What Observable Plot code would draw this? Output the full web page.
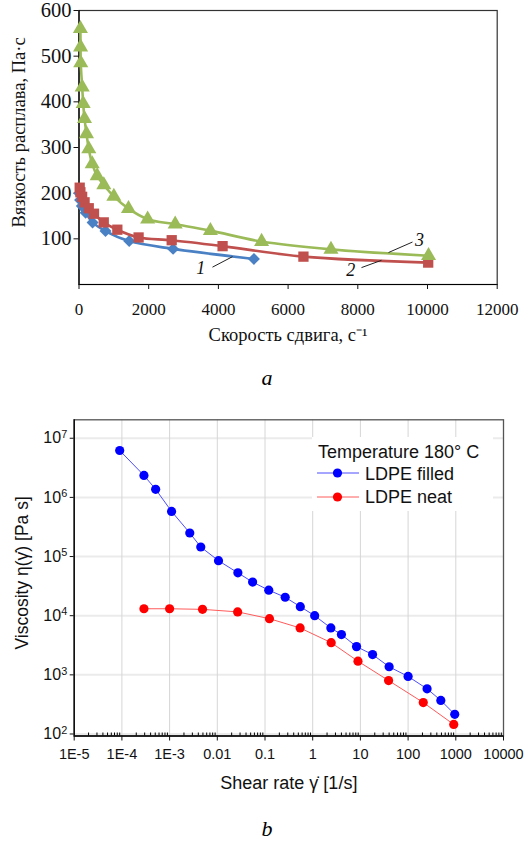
<!DOCTYPE html>
<html><head><meta charset="utf-8">
<script src="https://cdn.jsdelivr.net/npm/d3@7"></script>
<script src="https://cdn.jsdelivr.net/npm/@observablehq/plot@0.6"></script>
<style>
body{margin:0;background:#fff;}
#wrap{position:relative;width:531px;height:841px;overflow:hidden;background:#fff;}
#wrap svg{position:absolute;left:0;}
.cap{position:absolute;font-family:"Liberation Serif",serif;font-style:italic;font-size:22px;line-height:22px;width:100px;text-align:center;}
#legend{position:absolute;left:312px;top:437px;width:181px;height:74px;background:#fff;font-family:"Liberation Sans",Arial,sans-serif;font-size:18px;line-height:18px;color:#111;}
#legend .t{position:absolute;white-space:nowrap;}
#legend svg{position:absolute;}
</style></head><body><div id="wrap"></div>
<script>
// ---------- Chart a: melt viscosity vs shear rate (linear) ----------
const shearA1 = [5, 30, 80, 190, 390, 760, 1440, 2700, 5020];
const viscA1  = [200, 185, 172, 157, 136, 117, 95, 78, 56];
const shearA2 = [20, 40, 90, 160, 280, 430, 710, 1100, 1710, 2660, 4120, 6440, 10020];
const viscA2  = [212, 202, 192, 180, 167, 155, 136, 120, 103, 97, 84, 61, 48];
const shearA3 = [40, 45, 50, 92, 120, 158, 215, 281, 379, 522, 712, 1000, 1420, 1970, 2760, 3770, 5240, 7230, 10030];
const viscA3  = [560, 520, 485, 432, 396, 363, 330, 297, 264, 238, 218, 193, 166, 143, 132, 118, 94, 77, 63];
const xTicksA = [0, 2000, 4000, 6000, 8000, 10000, 12000];
const yTicksA = [100, 200, 300, 400, 500, 600];
const seriesNamesA = ["1", "2", "3"];
const labelPosA = [[3490, 35], [7800, 31], [9770, 96]];
const leaderA = [[3830, 38, 4405, 61], [8106, 37, 8680, 53], [8881, 70, 9570, 93]];
const xLabelA = "Скорость сдвига, с\u207B\u00B9";
const yLabelA = "Вязкость расплава, Па·с";

const seriesA = [
  {name: seriesNamesA[0], xs: shearA1, ys: viscA1, color: "#4a80c4", symbol: "diamond2", r: 5.4},
  {name: seriesNamesA[1], xs: shearA2, ys: viscA2, color: "#c0504d", symbol: "square", r: 5.8},
  {name: seriesNamesA[2], xs: shearA3, ys: viscA3, color: "#9bbb59", symbol: "triangle", r: 5.6}
];

const marksA = [
  Plot.frame({stroke: "#333", strokeWidth: 1.2}),
  Plot.ruleX([0], {stroke: "#000", strokeWidth: 1.2}),
  Plot.ruleY([0], {stroke: "#000", strokeWidth: 1.2}),
  Plot.axisX(xTicksA, {tickSize: 5, tickPadding: 13, fontSize: 17, tickFormat: d => String(d), label: null}),
  Plot.axisY(yTicksA, {tickSize: 5, tickPadding: 2.5, fontSize: 20.5, label: null})
];
for (const s of seriesA) {
  const rows = s.xs.map((x, i) => ({x, y: s.ys[i]}));
  marksA.push(Plot.line(rows, {x: "x", y: "y", stroke: s.color, strokeWidth: 2.6, curve: "catmull-rom"}));
  marksA.push(Plot.dot(rows, {x: "x", y: "y", fill: s.color, symbol: s.symbol, r: s.r}));
}
marksA.push(Plot.link(leaderA, {x1: d => d[0], y1: d => d[1], x2: d => d[2], y2: d => d[3], stroke: "#222", strokeWidth: 1}));
marksA.push(Plot.text(labelPosA, {x: d => d[0], y: d => d[1], text: (d, i) => seriesNamesA[i], fontStyle: "italic", fontSize: 18, fill: "#111"}));
marksA.push(Plot.text([xLabelA], {frameAnchor: "bottom", dy: 56, fontSize: 18.5, fill: "#111", textAnchor: "middle"}));
marksA.push(Plot.text([yLabelA], {frameAnchor: "left", rotate: -90, dx: -60, dy: -15, fontSize: 18.5, fill: "#111", textAnchor: "middle"}));

const plotA = Plot.plot({
  width: 531, height: 360,
  marginLeft: 78.5, marginRight: 34.3, marginTop: 10, marginBottom: 76,
  style: {fontFamily: "'Liberation Serif', 'Times New Roman', serif", fontSize: "17px", color: "#111", background: "transparent", overflow: "visible"},
  x: {domain: [0, 12000], label: null},
  y: {domain: [0, 600], label: null},
  marks: marksA
});
plotA.style.top = "0px";

// ---------- Chart b: viscosity vs shear rate (log-log) ----------
const seriesNamesB = ["LDPE filled", "LDPE neat"];
const shearFilled = [9e-5, 2.9e-4, 5.1e-4, 1.1e-3, 2.65e-3, 4.5e-3, 1.06e-2, 2.7e-2, 5.5e-2, 0.12, 0.265, 0.55, 1.1, 2.4, 4.0, 8.3, 18, 40, 100, 250, 485, 950];
const viscFilled  = [6.2e6, 2.35e6, 1.37e6, 5.8e5, 2.5e5, 1.45e5, 8.5e4, 5.3e4, 3.7e4, 2.7e4, 2.05e4, 1.42e4, 1.0e4, 6.2e3, 4.8e3, 3.0e3, 2.2e3, 1.37e3, 940, 580, 370, 215];
const shearNeat = [2.9e-4, 1.0e-3, 4.9e-3, 2.67e-2, 0.124, 0.545, 2.44, 8.9, 39, 208, 905];
const viscNeat  = [1.31e4, 1.31e4, 1.28e4, 1.16e4, 8.9e3, 6.2e3, 3.5e3, 1.7e3, 800, 340, 145];
const xTicksB = [1e-5, 1e-4, 1e-3, 1e-2, 1e-1, 1, 10, 100, 1000, 10000];
const xTickLabelsB = ["1E-5", "1E-4", "1E-3", "0.01", "0.1", "1", "10", "100", "1000", "10000"];
const yTicksB = [1e2, 1e3, 1e4, 1e5, 1e6, 1e7];
const xDomainB = [1e-5, 1e4];
const yDomainB = [92.5, 2.05e7];
const xMinorB = xTicksB.slice(0, -1).flatMap(d => [2, 3, 4, 5, 6, 7, 8, 9].map(k => k * d));
const xLabelB = "Shear rate \u03B3\u0307 [1/s]";
const yLabelB = "Viscosity \u03B7(\u03B3\u0307) [Pa s]";
const legendTitleB = "Temperature 180\u00B0 C";

const seriesB = [
  {name: seriesNamesB[0], xs: shearFilled, ys: viscFilled, line: "#4d4dff", dot: "#0000ff"},
  {name: seriesNamesB[1], xs: shearNeat, ys: viscNeat, line: "#ff5a5a", dot: "#ff0000"}
];

const labelForB = d => {
  const k = xTicksB.findIndex(t => Math.abs(Math.log10(t) - Math.log10(d)) < 1e-6);
  return k >= 0 ? xTickLabelsB[k] : "";
};

const marksB = [
  Plot.ruleY(yTicksB, {stroke: "#ebebeb", strokeWidth: 2}),
  Plot.ruleX(xTicksB, {stroke: "#d6d6d6", strokeWidth: 1}),
  Plot.frame({stroke: "#555", strokeWidth: 1.3}),
  Plot.ruleX([xDomainB[0]], {stroke: "#000", strokeWidth: 1.3}),
  Plot.ruleY([yDomainB[0]], {stroke: "#000", strokeWidth: 1.5}),
  Plot.ruleX(xMinorB, {y1: yDomainB[0], y2: yDomainB[0], insetTop: -3, stroke: "#000", strokeWidth: 1}),
  Plot.axisX(xTicksB, {tickSize: 5, tickPadding: 7.5, fontSize: 14.5, tickFormat: labelForB, label: null}),
  Plot.axisY(yTicksB, {tickSize: 4, tickPadding: 3, fontSize: 16, tickFormat: d => "10^" + Math.round(Math.log10(d)), label: null})
];
for (const s of seriesB) {
  const rows = s.xs.map((x, i) => ({x, y: s.ys[i]}));
  marksB.push(Plot.line(rows, {x: "x", y: "y", stroke: s.line, strokeWidth: 1}));
  marksB.push(Plot.dot(rows, {x: "x", y: "y", fill: s.dot, r: 4.6}));
}
marksB.push(Plot.text([xLabelB], {frameAnchor: "bottom", dy: 53, fontSize: 18, fill: "#111", textAnchor: "middle"}));
marksB.push(Plot.text([yLabelB], {frameAnchor: "left", rotate: -90, dx: -51.5, dy: -5, fontSize: 17.5, fill: "#111", textAnchor: "middle"}));

const plotB = Plot.plot({
  width: 531, height: 400,
  marginLeft: 73.7, marginRight: 28, marginTop: 19.3, marginBottom: 64.5,
  style: {fontFamily: "'Liberation Sans', Arial, sans-serif", fontSize: "14.5px", color: "#111", background: "transparent", overflow: "visible"},
  x: {type: "log", domain: xDomainB, label: null},
  y: {type: "log", domain: yDomainB, label: null},
  marks: marksB
});
plotB.style.top = "400px";

// superscript exponents on the y tick labels
d3.select(plotB).selectAll('g[aria-label="y-axis tick label"] text').each(function () {
  const t = this.textContent;
  if (t.startsWith("10^")) {
    const e = t.slice(3);
    this.textContent = "10";
    d3.select(this).append("tspan").attr("font-size", "0.68em").attr("dy", "-0.5em").text(e);
  }
});

const wrap = document.getElementById("wrap");
wrap.appendChild(plotA);
wrap.appendChild(plotB);

// captions
const capA = document.createElement("div");
capA.className = "cap"; capA.textContent = "a";
capA.style.left = "217px"; capA.style.top = "367px";
wrap.appendChild(capA);
const capB = document.createElement("div");
capB.className = "cap"; capB.textContent = "b";
capB.style.left = "217px"; capB.style.top = "818px";
wrap.appendChild(capB);

// legend for chart b
const lg = document.createElement("div");
lg.id = "legend";
const title = document.createElement("div");
title.className = "t"; title.textContent = legendTitleB;
title.style.left = "6px"; title.style.top = "6px";
lg.appendChild(title);
seriesB.forEach((s, i) => {
  const cy = 36.3 + i * 23.4;
  const sv = d3.create("svg").attr("width", 46).attr("height", 12)
    .style("left", "4px").style("top", (cy - 6) + "px");
  sv.append("line").attr("x1", 1).attr("x2", 43).attr("y1", 6).attr("y2", 6).attr("stroke", s.line).attr("stroke-width", 1);
  sv.append("circle").attr("cx", 21.5).attr("cy", 6).attr("r", 4.6).attr("fill", s.dot);
  lg.appendChild(sv.node());
  const t = document.createElement("div");
  t.className = "t"; t.textContent = s.name;
  t.style.left = "53px"; t.style.top = (cy - 8.7) + "px";
  lg.appendChild(t);
});
wrap.appendChild(lg);
</script></body></html>
